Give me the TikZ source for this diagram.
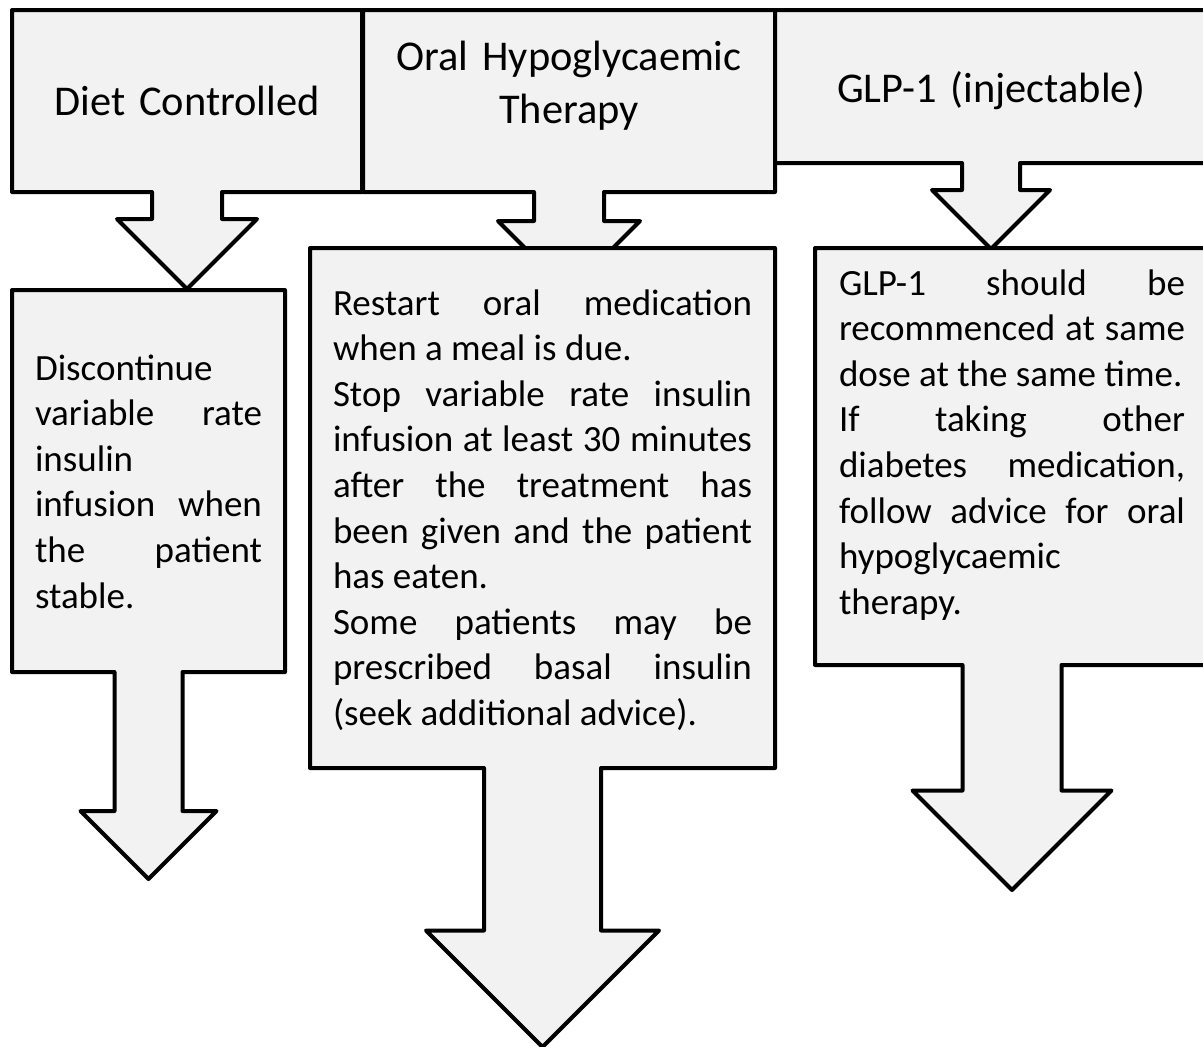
\documentclass[tikz,border=0pt]{standalone}
\usepackage{fontspec}
\setmainfont{Carlito}
\usepackage{xcolor}
\usetikzlibrary{shapes.arrows}
\definecolor{boxfill}{HTML}{F2F2F2}

\begin{document}
\begin{tikzpicture}[x=0.5pt, y=-0.5pt,
  card/.style={arrow box, draw=black, fill=boxfill, line width=2pt, line join=round,
    inner sep=0pt, arrow box tip angle=90, arrow box head indent=0pt,
    arrow box north arrow=-1pt, arrow box east arrow=-1pt, arrow box west arrow=-1pt},
  down/.style n args={3}{arrow box shaft width=#1, arrow box head extend=#2,
    arrow box south arrow=#3},
  % first baseline sits (text height - text depth)/2 below the centre
  lift/.style 2 args={text height=#1, text depth=#2},
  headtxt/.style={font=\fontsize{21.2pt}{26.5pt}\selectfont, align=center},
  bodytxt/.style={font={\fontsize{18.5pt}{22.8pt}\selectfont
    \tolerance=10000 \hyphenpenalty=10000}, align=justify}
]
  \useasboundingbox (0,0) rectangle (1203,1046);
  \clip (0,0) rectangle (1203,1046);

  % top row
  \node[card, headtxt, text width=160pt, lift={14pt}{0pt}, minimum width=175pt,
    minimum height=91pt, down={35pt}{17.5pt}{47.5pt}] (diet) at (187,101)
    {Diet Controlled};
  \node[card, headtxt, text width=190pt, lift={10pt}{41pt}, minimum width=206pt,
    minimum height=91pt, down={35pt}{18pt}{49pt}] (oral) at (569,101)
    {Oral Hypoglycaemic\\Therapy};
  \node[card, headtxt, text width=200pt, lift={15.5pt}{0pt}, minimum width=216pt,
    minimum height=76.5pt, down={29pt}{15pt}{42pt}] (glp) at (991,86.5)
    {GLP-1 (injectable)};

  % advice boxes
  \node[card, bodytxt, text width=113.5pt, lift={13pt}{114pt}, minimum width=136.5pt,
    minimum height=191pt, down={34pt}{17pt}{102.5pt}] (dietnote) at (148.5,481) {%
    Discontinue\\
    variable rate\linebreak
    insulin\\
    infusion when\linebreak
    the patient\linebreak
    stable.};
  \node[card, bodytxt, text width=209.5pt, lift={13pt}{206pt}, minimum width=232.5pt,
    minimum height=260pt, down={58.5pt}{29pt}{138.5pt}] (oralnote) at (542.5,508) {%
    Restart oral medication\linebreak
    when a meal is due.\\
    Stop variable rate insulin\linebreak
    infusion at least 30 minutes\linebreak
    after the treatment has\linebreak
    been given and the patient\linebreak
    has eaten.\\
    Some patients may be\linebreak
    prescribed basal insulin\linebreak
    (seek additional advice).};
  \node[card, bodytxt, text width=173pt, lift={13pt}{174.5pt}, minimum width=197pt,
    minimum height=208.5pt, down={49.5pt}{25pt}{111.5pt}] (glpnote) at (1012,456.5) {%
    GLP-1 should be\linebreak
    recommenced at same\linebreak
    dose at the same time.\\
    If taking other\linebreak
    diabetes medication,\linebreak
    follow advice for oral\linebreak
    hypoglycaemic\\
    therapy.};
\end{tikzpicture}
\end{document}
